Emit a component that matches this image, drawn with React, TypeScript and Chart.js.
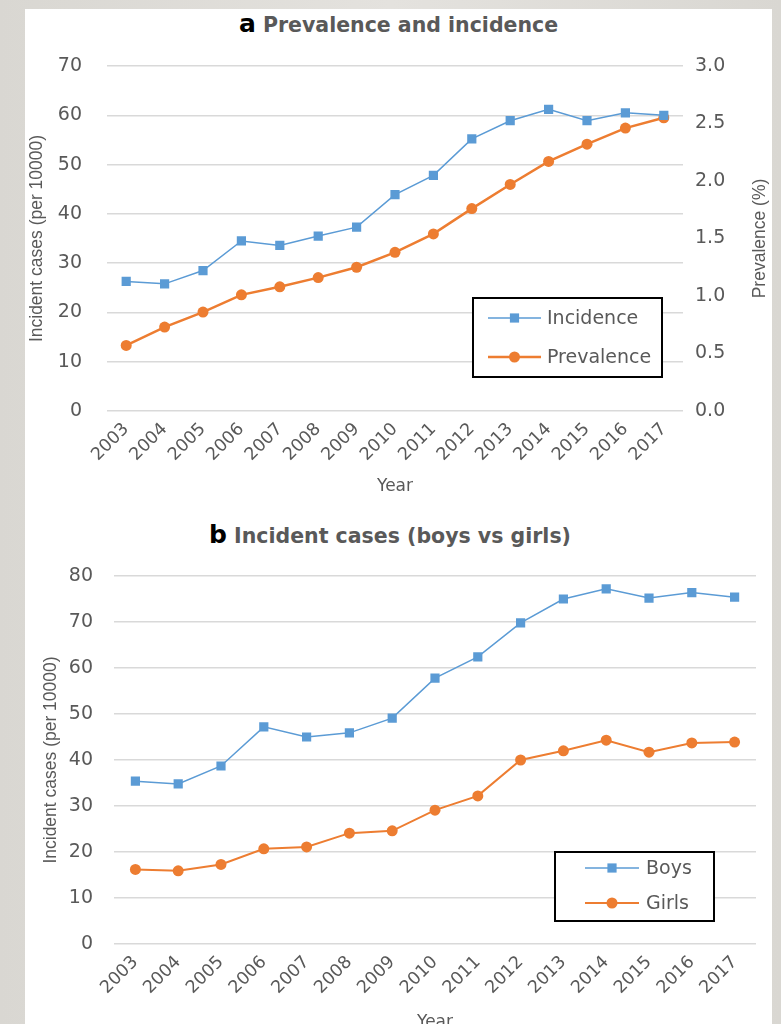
import React, { useEffect, useRef } from "react";
import { Chart, registerables } from "chart.js";

Chart.register(...registerables);

const years = ["2003", "2004", "2005", "2006", "2007", "2008", "2009", "2010", "2011", "2012", "2013", "2014", "2015", "2016", "2017"];
const incidence = [26.3, 25.8, 28.5, 34.5, 33.6, 35.5, 37.3, 43.9, 47.8, 55.2, 58.9, 61.2, 58.9, 60.5, 60.0];
const prevalence = [0.57, 0.73, 0.86, 1.01, 1.08, 1.16, 1.25, 1.38, 1.54, 1.76, 1.97, 2.17, 2.32, 2.46, 2.55];
const boys = [35.4, 34.8, 38.7, 47.2, 45.0, 45.9, 49.1, 57.8, 62.4, 69.8, 75.0, 77.2, 75.2, 76.4, 75.4];
const girls = [16.2, 15.9, 17.3, 20.7, 21.1, 24.1, 24.6, 29.1, 32.2, 40.0, 42.0, 44.3, 41.7, 43.7, 43.9];

const BLUE = "#5b9bd5";
const ORANGE = "#ed7d31";
const GRAY = "#595959";
const GRID = "#d9d9d9";
const WIDE = "DejaVu Sans";
const NARROW = "Liberation Sans";

type LegendBox = { x: number; y: number; w: number; h: number; lineX: number; lineW: number; textX: number; rows: number[] };

function boxLegend(id: string, box: LegendBox) {
  return {
    id,
    afterDraw(chart: any) {
      const ctx = chart.ctx as CanvasRenderingContext2D;
      ctx.save();
      ctx.fillStyle = "#fff";
      ctx.fillRect(box.x, box.y, box.w, box.h);
      ctx.strokeStyle = "#000";
      ctx.lineWidth = 2;
      ctx.strokeRect(box.x, box.y, box.w, box.h);
      chart.data.datasets.forEach((ds: any, i: number) => {
        const y = box.rows[i];
        ctx.strokeStyle = ds.borderColor;
        ctx.lineWidth = ds.borderWidth;
        ctx.beginPath();
        ctx.moveTo(box.lineX, y);
        ctx.lineTo(box.lineX + box.lineW, y);
        ctx.stroke();
        const cx = box.lineX + box.lineW / 2;
        ctx.fillStyle = ds.pointBackgroundColor;
        if (ds.pointStyle === "rect") {
          const s = ds.pointRadius * Math.SQRT1_2;
          ctx.fillRect(cx - s, y - s, 2 * s, 2 * s);
        } else {
          ctx.beginPath();
          ctx.arc(cx, y, ds.pointRadius, 0, Math.PI * 2);
          ctx.fill();
        }
        ctx.fillStyle = GRAY;
        ctx.font = `19px "${WIDE}"`;
        ctx.textBaseline = "middle";
        ctx.textAlign = "left";
        ctx.fillText(ds.label, box.textX, y + 1);
      });
      ctx.restore();
    },
  };
}

// right-hand axis title, rotated the same way as the left one (reads bottom to top)
function rightTitle(text: string, x: number) {
  return {
    id: "rightTitle",
    afterDraw(chart: any) {
      const ctx = chart.ctx as CanvasRenderingContext2D;
      const { top, bottom } = chart.chartArea;
      ctx.save();
      ctx.translate(x, (top + bottom) / 2);
      ctx.rotate(-Math.PI / 2);
      ctx.fillStyle = GRAY;
      ctx.font = `17.5px "${NARROW}"`;
      ctx.textAlign = "center";
      ctx.textBaseline = "middle";
      ctx.fillText(text, 0, 0);
      ctx.restore();
    },
  };
}

function xScale(height: number) {
  return {
    type: "category" as const,
    offset: true,
    grid: { display: false, drawTicks: false },
    border: { display: false },
    ticks: {
      autoSkip: false,
      minRotation: 45,
      maxRotation: 45,
      padding: 8,
      color: GRAY,
      font: { family: WIDE, size: 17.5 },
    },
    title: {
      display: true,
      text: "Year",
      color: GRAY,
      font: { family: WIDE, size: 17 },
      padding: { top: 4, bottom: 3 },
    },
    afterFit: (s: any) => {
      s.height = height;
    },
  };
}

function yTitle(text: string, pad: number) {
  return {
    display: true,
    text,
    color: GRAY,
    font: { family: NARROW, size: 17.5 },
    padding: { top: pad, bottom: 0 },
  };
}

function fixWidth(w: number) {
  return (s: any) => {
    s.width = w;
    s.paddingTop = 4;
    s.paddingBottom = 4;
  };
}

function ChartA() {
  const ref = useRef<HTMLCanvasElement | null>(null);
  useEffect(() => {
    if (!ref.current) return;
    const chart = new Chart(ref.current, {
      type: "line",
      data: {
        labels: years,
        datasets: [
          {
            label: "Incidence",
            data: incidence,
            yAxisID: "y",
            borderColor: BLUE,
            backgroundColor: BLUE,
            pointBackgroundColor: BLUE,
            pointBorderColor: BLUE,
            borderWidth: 1.5,
            pointStyle: "rect",
            pointRadius: 6.5,
            pointBorderWidth: 0,
            tension: 0,
          },
          {
            label: "Prevalence",
            data: prevalence,
            yAxisID: "y1",
            borderColor: ORANGE,
            backgroundColor: ORANGE,
            pointBackgroundColor: ORANGE,
            pointBorderColor: ORANGE,
            borderWidth: 2.5,
            pointStyle: "circle",
            pointRadius: 5.5,
            pointBorderWidth: 0,
            tension: 0,
          },
        ],
      },
      options: {
        animation: false,
        responsive: false,
        maintainAspectRatio: false,
        layout: { padding: { top: 17, left: 0, right: 0, bottom: 0 } },
        plugins: { legend: { display: false }, title: { display: false }, tooltip: { enabled: false } },
        scales: {
          x: xScale(89),
          y: {
            position: "left",
            min: 0,
            max: 70,
            ticks: { stepSize: 10, padding: 25, color: GRAY, font: { family: WIDE, size: 19 } },
            grid: { color: GRID, lineWidth: 1.5, drawTicks: false },
            border: { display: false },
            title: yTitle("Incident cases (per 10000)", 2),
            afterFit: fixWidth(82),
          },
          y1: {
            position: "right",
            min: 0,
            max: 3,
            ticks: {
              stepSize: 0.5,
              padding: 12,
              color: GRAY,
              font: { family: WIDE, size: 19 },
              callback: (v: any) => Number(v).toFixed(1),
            },
            grid: { display: false, drawTicks: false },
            border: { display: false },
            title: { display: false },
            afterFit: fixWidth(89),
          },
        },
      },
      plugins: [
        boxLegend("legendA", { x: 448, y: 249, w: 189, h: 79, lineX: 463, lineW: 53, textX: 522, rows: [269, 308] }),
        rightTitle("Prevalence (%)", 735),
      ],
    } as any);
    return () => chart.destroy();
  }, []);
  return <canvas ref={ref} width={747} height={451} style={{ position: "absolute", left: 0, top: 40, width: 747, height: 451 }} />;
}

function ChartB() {
  const ref = useRef<HTMLCanvasElement | null>(null);
  useEffect(() => {
    if (!ref.current) return;
    const chart = new Chart(ref.current, {
      type: "line",
      data: {
        labels: years,
        datasets: [
          {
            label: "Boys",
            data: boys,
            borderColor: BLUE,
            backgroundColor: BLUE,
            pointBackgroundColor: BLUE,
            pointBorderColor: BLUE,
            borderWidth: 1.5,
            pointStyle: "rect",
            pointRadius: 6.5,
            pointBorderWidth: 0,
            tension: 0,
          },
          {
            label: "Girls",
            data: girls,
            borderColor: ORANGE,
            backgroundColor: ORANGE,
            pointBackgroundColor: ORANGE,
            pointBorderColor: ORANGE,
            borderWidth: 2,
            pointStyle: "circle",
            pointRadius: 5.5,
            pointBorderWidth: 0,
            tension: 0,
          },
        ],
      },
      options: {
        animation: false,
        responsive: false,
        maintainAspectRatio: false,
        layout: { padding: { top: 27, left: 0, right: 16, bottom: 0 } },
        plugins: { legend: { display: false }, title: { display: false }, tooltip: { enabled: false } },
        scales: {
          x: xScale(92),
          y: {
            position: "left",
            min: 0,
            max: 80,
            ticks: { stepSize: 10, padding: 21, color: GRAY, font: { family: WIDE, size: 19 } },
            grid: { color: GRID, lineWidth: 1.5, drawTicks: false },
            border: { display: false },
            title: yTitle("Incident cases (per 10000)", 16),
            afterFit: fixWidth(89),
          },
        },
      },
      plugins: [boxLegend("legendB", { x: 530, y: 303, w: 159, h: 69, lineX: 560, lineW: 54, textX: 621, rows: [319, 354] })],
    } as any);
    return () => chart.destroy();
  }, []);
  return <canvas ref={ref} width={747} height={487} style={{ position: "absolute", left: 0, top: 540, width: 747, height: 487 }} />;
}

function Title({ letter, text, top, shift }: { letter: string; text: string; top: number; shift: number }) {
  return (
    <div
      style={{
        position: "absolute",
        left: 0,
        top,
        width: 747 - shift,
        textAlign: "center",
        fontFamily: WIDE,
        fontWeight: "bold",
        lineHeight: "26px",
        whiteSpace: "nowrap",
      }}
    >
      <span style={{ color: "#000", fontSize: 25 }}>{letter}</span>
      <span style={{ color: GRAY, fontSize: 20.5 }}> {text}</span>
    </div>
  );
}

export default function App() {
  return (
    <div
      style={{
        position: "fixed",
        left: 0,
        top: 0,
        width: 781,
        height: 1024,
        overflow: "hidden",
        background: "linear-gradient(90deg, #d9d7d2 0%, #e4e2de 50%, #d9d7d2 100%)",
      }}
    >
      <div style={{ position: "absolute", left: 25, top: 9, width: 747, height: 1100, background: "#fff" }}>
        <Title letter="a" text="Prevalence and incidence" top={2} shift={0} />
        <Title letter="b" text="Incident cases (boys vs girls)" top={513} shift={17} />
        <ChartA />
        <ChartB />
      </div>
    </div>
  );
}
